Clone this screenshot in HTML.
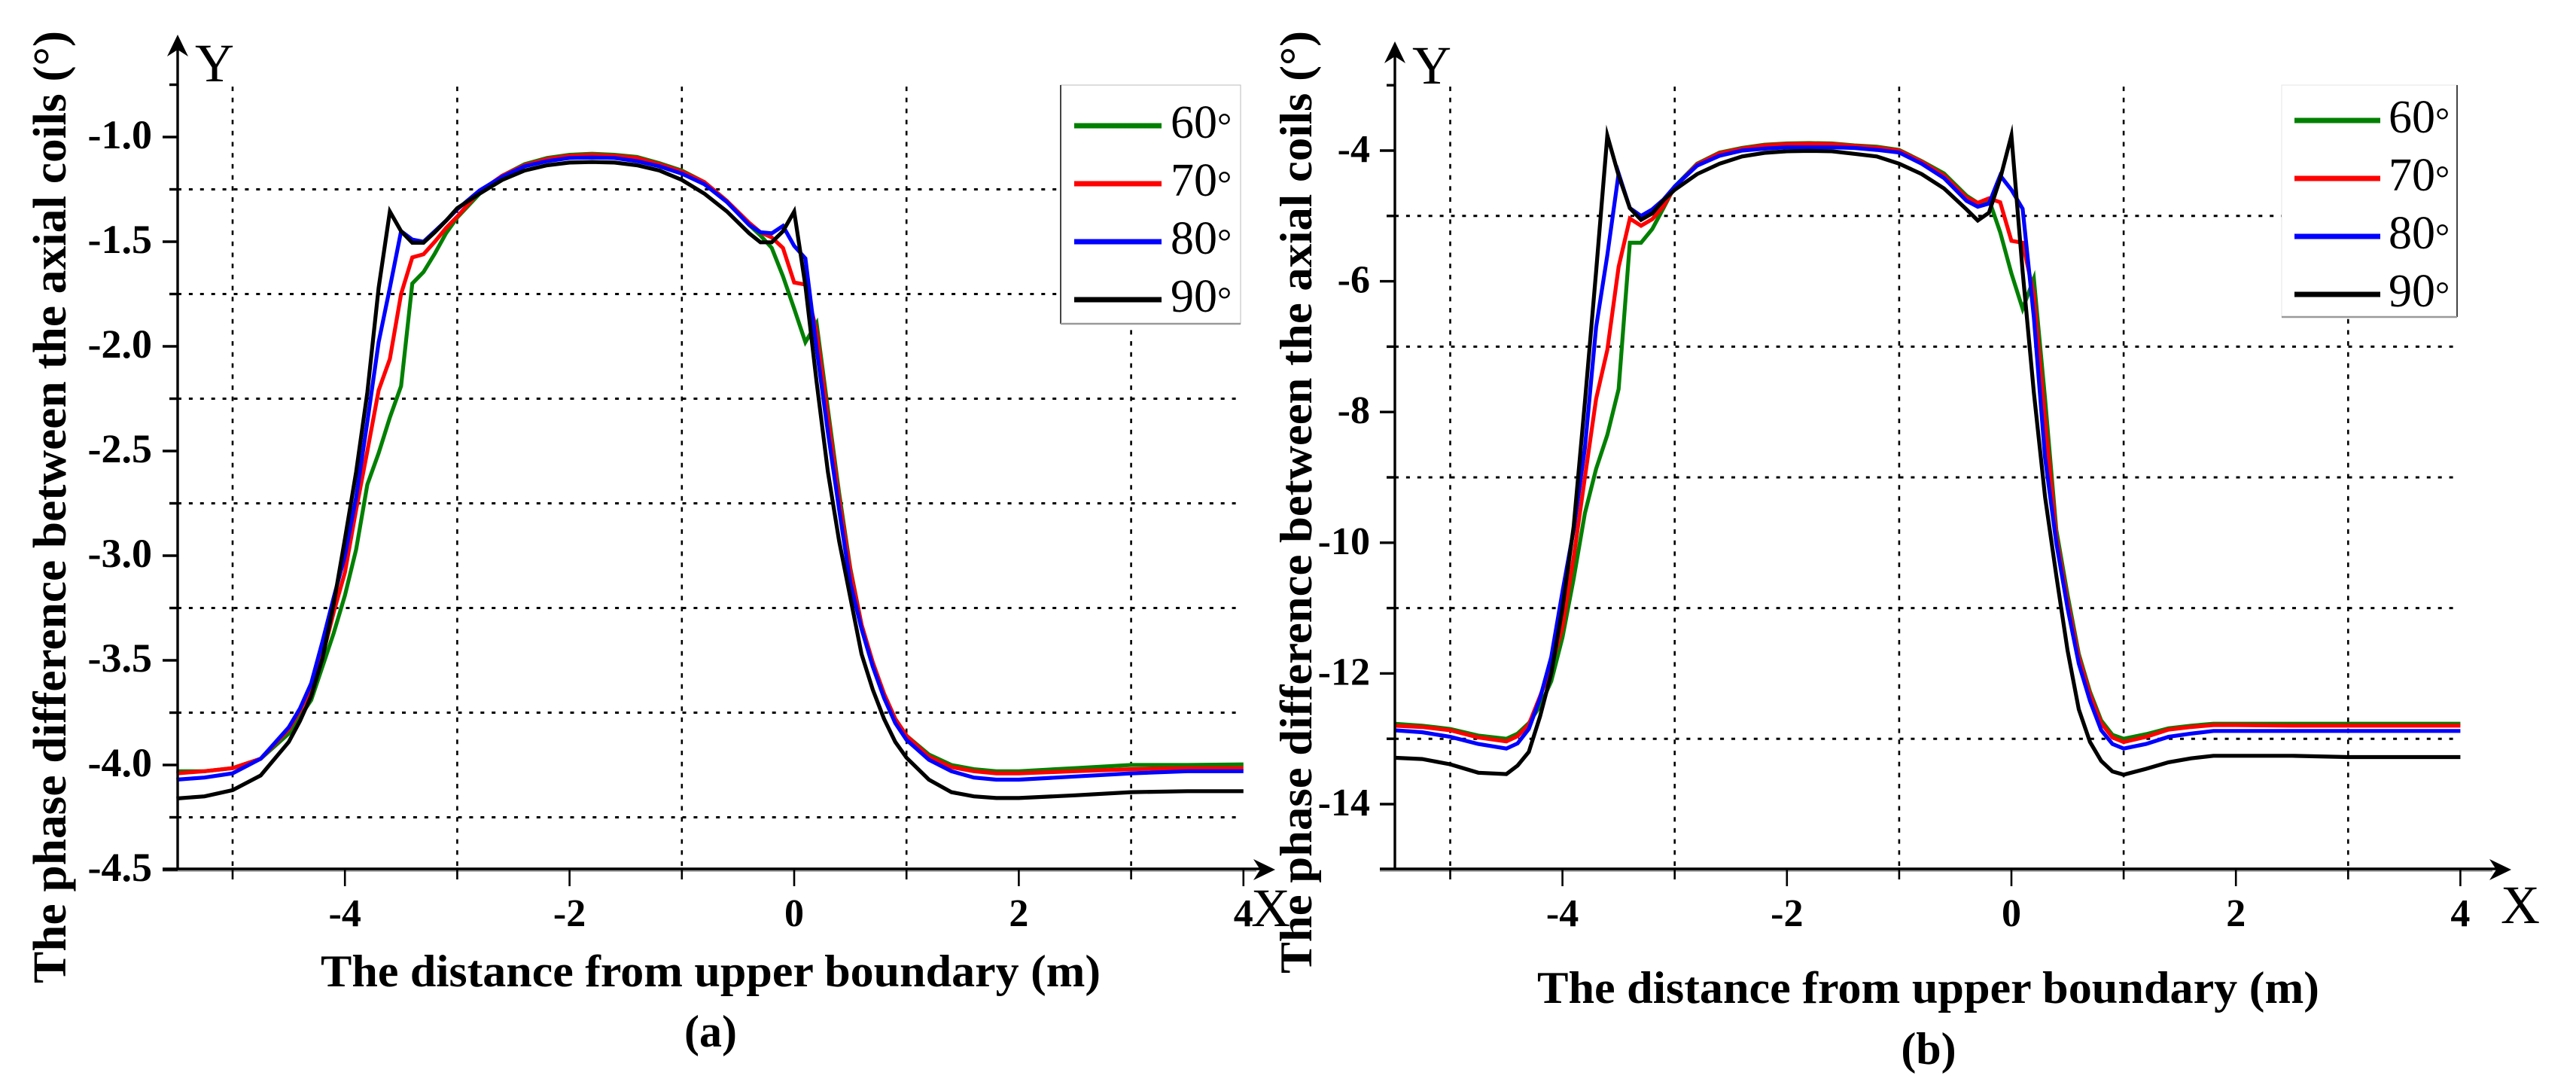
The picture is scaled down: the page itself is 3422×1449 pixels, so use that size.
<!DOCTYPE html>
<html lang="en">
<head>
<meta charset="utf-8">
<title>Phase difference between the axial coils</title>
<style>
html,body{margin:0;padding:0;background:#fff;width:3422px;height:1449px;overflow:hidden}
svg{display:block}
text{font-family:"Liberation Serif",serif;fill:#000}
.bold{font-weight:bold}
</style>
</head>
<body>
<svg id="fig" width="3422" height="1449" viewBox="0 0 3422 1449" xmlns="http://www.w3.org/2000/svg">
<rect x="0" y="0" width="3422" height="1449" fill="#fff"/>
</svg>
<script>
var xValues = [-5.5,-5.25,-5,-4.75,-4.5,
 -4.4,-4.3,-4.2,-4.1,-4,-3.9,-3.8,-3.7,-3.6,-3.5,-3.4,-3.3,-3.2,-3.1,-3,
 -2.8,-2.6,-2.4,-2.2,-2,-1.8,-1.6,-1.4,-1.2,-1,-0.8,-0.6,-0.4,
 -0.3,-0.2,-0.1,0,0.1,0.2,0.3,0.4,0.5,0.6,0.7,0.8,0.9,1,
 1.2,1.4,1.6,1.8,2,2.5,3,3.5,4];

var a60 = [-4.03,-4.03,-4.015,-3.97,-3.85,
 -3.77,-3.69,-3.53,-3.37,-3.19,-2.97,-2.66,-2.51,-2.34,-2.19,-1.70,-1.645,-1.557,-1.46,-1.385,
 -1.27,-1.185,-1.13,-1.10,-1.085,-1.08,-1.085,-1.095,-1.125,-1.16,-1.215,-1.305,-1.42,
 -1.47,-1.53,-1.665,-1.82,-1.98,-1.89,-2.30,-2.70,-3.06,-3.33,-3.51,-3.66,-3.78,-3.86,
 -3.95,-4.0,-4.02,-4.03,-4.03,-4.015,-4.0,-4.0,-3.997];
var a70 = [-4.04,-4.03,-4.015,-3.97,-3.83,
 -3.74,-3.63,-3.48,-3.27,-3.08,-2.78,-2.5,-2.21,-2.06,-1.75,-1.575,-1.56,-1.50,-1.435,-1.38,
 -1.26,-1.185,-1.135,-1.105,-1.09,-1.085,-1.09,-1.10,-1.13,-1.165,-1.215,-1.305,-1.41,
 -1.455,-1.48,-1.53,-1.695,-1.705,-1.93,-2.335,-2.73,-3.07,-3.33,-3.51,-3.66,-3.78,-3.86,
 -3.96,-4.01,-4.03,-4.04,-4.04,-4.03,-4.02,-4.015,-4.015];
var a80 = [-4.07,-4.06,-4.04,-3.97,-3.82,
 -3.73,-3.61,-3.41,-3.2,-3.0,-2.72,-2.36,-1.98,-1.72,-1.45,-1.49,-1.50,-1.45,-1.40,-1.345,
 -1.255,-1.19,-1.14,-1.115,-1.10,-1.098,-1.10,-1.115,-1.14,-1.175,-1.225,-1.31,-1.42,
 -1.455,-1.46,-1.425,-1.52,-1.58,-2.01,-2.41,-2.78,-3.13,-3.35,-3.53,-3.68,-3.80,-3.88,
 -3.975,-4.03,-4.06,-4.07,-4.07,-4.055,-4.04,-4.03,-4.03];
var a90 = [-4.16,-4.15,-4.12,-4.05,-3.89,
 -3.79,-3.67,-3.49,-3.23,-2.92,-2.6,-2.22,-1.72,-1.356,-1.45,-1.505,-1.505,-1.455,-1.40,-1.34,
 -1.27,-1.205,-1.16,-1.135,-1.122,-1.119,-1.122,-1.135,-1.16,-1.205,-1.27,-1.355,-1.46,
 -1.503,-1.503,-1.45,-1.356,-1.71,-2.17,-2.6,-2.93,-3.2,-3.47,-3.64,-3.78,-3.89,-3.965,
 -4.07,-4.13,-4.15,-4.158,-4.158,-4.145,-4.13,-4.125,-4.125];

var b60 = [-12.77,-12.8,-12.85,-12.95,-13.0,
 -12.92,-12.76,-12.5,-12.12,-11.45,-10.55,-9.55,-8.87,-8.35,-7.65,-5.41,-5.41,-5.2,-4.88,-4.55,
 -4.2,-4.03,-3.96,-3.91,-3.89,-3.885,-3.89,-3.92,-3.94,-3.99,-4.16,-4.35,-4.69,
 -4.8,-4.75,-5.25,-5.88,-6.42,-5.96,-7.8,-9.8,-10.8,-11.7,-12.28,-12.72,-12.94,-13.0,
 -12.93,-12.84,-12.8,-12.77,-12.77,-12.77,-12.77,-12.77,-12.77];
var b70 = [-12.8,-12.82,-12.87,-12.98,-13.04,
 -12.96,-12.78,-12.35,-11.9,-11.3,-10.22,-9.0,-7.8,-7.05,-5.78,-5.04,-5.15,-5.05,-4.85,-4.56,
 -4.21,-4.04,-3.97,-3.92,-3.9,-3.895,-3.9,-3.93,-3.955,-4.0,-4.17,-4.38,-4.72,
 -4.8,-4.73,-4.79,-5.38,-5.41,-6.2,-8.1,-9.9,-10.9,-11.75,-12.32,-12.76,-12.98,-13.05,
 -12.97,-12.86,-12.82,-12.79,-12.79,-12.8,-12.8,-12.8,-12.8];
var b80 = [-12.87,-12.9,-12.97,-13.08,-13.15,
 -13.07,-12.85,-12.38,-11.75,-10.75,-9.8,-8.55,-6.7,-5.6,-4.35,-4.88,-5.0,-4.9,-4.75,-4.55,
 -4.23,-4.08,-4.0,-3.97,-3.95,-3.95,-3.95,-3.96,-3.99,-4.03,-4.2,-4.42,-4.77,
 -4.86,-4.81,-4.38,-4.6,-4.89,-6.55,-8.7,-10.0,-11.0,-11.85,-12.42,-12.87,-13.08,-13.15,
 -13.08,-12.97,-12.92,-12.88,-12.88,-12.88,-12.88,-12.88,-12.88];
var b90 = [-13.29,-13.31,-13.39,-13.52,-13.54,
 -13.41,-13.2,-12.66,-12.0,-11.0,-9.75,-7.85,-5.85,-3.77,-4.38,-4.88,-5.06,-4.96,-4.76,-4.6,
 -4.36,-4.2,-4.09,-4.035,-4.01,-4.005,-4.01,-4.05,-4.09,-4.2,-4.36,-4.58,-4.9,
 -5.07,-4.95,-4.43,-3.77,-5.85,-7.7,-9.3,-10.5,-11.65,-12.55,-13.05,-13.34,-13.5,-13.55,
 -13.46,-13.36,-13.3,-13.26,-13.26,-13.26,-13.28,-13.28,-13.28];

var seriesNames = ['60', '70', '80', '90'];
var seriesColors = ['#008000', '#ff0000', '#0000ff', '#000000'];
var xMajorTicks = [-4, -2, 0, 2, 4];
var xMinorTicks = [-5, -3, -1, 1, 3];
var aYMajorTicks = [-1, -1.5, -2, -2.5, -3, -3.5, -4, -4.5];
var aYTickLabels = ['-1.0', '-1.5', '-2.0', '-2.5', '-3.0', '-3.5', '-4.0', '-4.5'];
var aYMinorTicks = [-0.75, -1.25, -1.75, -2.25, -2.75, -3.25, -3.75, -4.25];
var bYMajorTicks = [-4, -6, -8, -10, -12, -14];
var bYTickLabels = ['-4', '-6', '-8', '-10', '-12', '-14'];
var bYMinorTicks = [-3, -5, -7, -9, -11, -13];

var NS = 'http://www.w3.org/2000/svg';
var root = document.getElementById('fig');

function mk(tag, parent, attrs, txt) {
  var el = document.createElementNS(NS, tag);
  for (var k in attrs) { el.setAttribute(k, attrs[k]); }
  if (txt !== undefined) { el.textContent = txt; }
  parent.appendChild(el);
  return el;
}

function drawPanel(p) {
  var g = mk('g', root, {});
  
  

  function X(v) { return p.x0 + p.xScale * v; }
  function Y(v) { return p.yRef + (p.yRefVal - v) * p.yScale; }
  var axisX = p.axisX, axisY = 1154;

  // vertical dashed grid
  p.xMinor.forEach(function (v) {
    var l = mk('line', g, {x1: X(v), x2: X(v), y1: 115, y2: axisY, stroke: '#000', 'stroke-width': 2.6, 'stroke-dasharray': '6 8.7'});
    
    
  });
  // horizontal dotted grid
  p.yMinor.slice(1).forEach(function (v) {
    var l = mk('line', g, {x1: axisX, x2: p.gridEnd, y1: Y(v), y2: Y(v), stroke: '#000', 'stroke-width': 3, 'stroke-dasharray': '5 9.9'});
    
    
  });

  // legend box
  var lg = mk('g', g, {});
  
  
  var box = mk('rect', lg, {x: p.legend.x, y: p.legend.y, width: p.legend.w, height: p.legend.h, fill: '#fff', stroke: p.legend.stroke, 'stroke-width': 1});
  
  
  var side = mk('line', lg, {x1: p.legend.sideX, x2: p.legend.sideX, y1: p.legend.y, y2: p.legend.y + p.legend.h, stroke: '#444', 'stroke-width': 2});
  
  
  var bot = mk('line', lg, {x1: p.legend.x, x2: p.legend.x + p.legend.w, y1: p.legend.y + p.legend.h, y2: p.legend.y + p.legend.h, stroke: '#999', 'stroke-width': 2.5});
  
  

  seriesNames.forEach(function (name, i) {
    var ly = p.legend.first + i * p.legend.step;
    var sw = mk('line', lg, {x1: p.legend.lx1, x2: p.legend.lx2, y1: ly, y2: ly, stroke: seriesColors[i], 'stroke-width': 7});
    
    
    var t = mk('text', lg, {x: p.legend.tx, y: ly + 16, 'font-size': 62}, name);
    
    
    var deg = mk('tspan', t, {'font-size': 48}, '\u00B0');
    
    
  });

  // series
  p.series.forEach(function (vals, i) {
    var pts = vals.map(function (v, j) { return X(xValues[j]).toFixed(1) + ',' + Y(v).toFixed(1); }).join(' ');
    var s = mk('polyline', g, {points: pts, fill: 'none', stroke: seriesColors[i], 'stroke-width': 5.2, 'stroke-linejoin': 'miter', 'stroke-miterlimit': 6});
    
    
  });

  // axes
  var xShadow = mk('line', g, {x1: p.axisX - 20, x2: p.arrowTipX - 25, y1: axisY + 2.5, y2: axisY + 2.5, stroke: '#9a9a9a', 'stroke-width': 2.5});
  
  
  var xAxis = mk('line', g, {x1: p.axisX - 20, x2: p.arrowTipX - 20, y1: axisY, y2: axisY, stroke: '#000', 'stroke-width': 3.4});
  
  
  var yAxis = mk('line', g, {x1: axisX, x2: axisX, y1: axisY, y2: p.arrowTopY + 15, stroke: '#000', 'stroke-width': 3.4});
  
  

  var ah = mk('polygon', g, {points: [axisX, p.arrowTopY, axisX + 14, p.arrowTopY + 29, axisX, p.arrowTopY + 20, axisX - 14, p.arrowTopY + 29].join(','), fill: '#000'});
  
  
  var ax = mk('polygon', g, {points: [p.arrowTipX, axisY + 1, p.arrowTipX - 29, axisY - 13, p.arrowTipX - 20, axisY + 1, p.arrowTipX - 29, axisY + 15].join(','), fill: '#000'});
  
  

  // ticks and labels
  xMajorTicks.forEach(function (v) {
    var l = mk('line', g, {x1: X(v), x2: X(v), y1: axisY, y2: 1177, stroke: '#000', 'stroke-width': 2.6});
    
    
    var t = mk('text', g, {x: X(v), y: 1230, 'font-size': 52, 'text-anchor': 'middle', 'class': 'bold'}, String(v));
    
    
  });
  xMinorTicks.forEach(function (v) {
    var l = mk('line', g, {x1: X(v), x2: X(v), y1: axisY, y2: 1168, stroke: '#000', 'stroke-width': 2.6});
    
    
  });
  p.yMajor.forEach(function (v, i) {
    var l = mk('line', g, {x1: axisX - 20, x2: axisX, y1: Y(v), y2: Y(v), stroke: '#000', 'stroke-width': 3.4});
    
    
    var t = mk('text', g, {x: p.tickRight, y: Y(v) + p.tickDy, 'font-size': p.tickFont, 'text-anchor': 'end', 'class': 'bold'}, p.yLabels[i]);
    
    
  });
  p.yMinor.forEach(function (v) {
    var l = mk('line', g, {x1: axisX - 11, x2: axisX, y1: Y(v), y2: Y(v), stroke: '#000', 'stroke-width': 3.4});
    
    
  });

  // axis letters
  var yl = mk('text', g, {x: p.yLetter[0], y: p.yLetter[1], 'font-size': 72}, 'Y');
  
  
  var xl = mk('text', g, {x: p.xLetter[0], y: p.xLetter[1], 'font-size': 72}, 'X');
  
  

  // titles
  var xt = mk('text', g, {x: p.xTitle[0], y: p.xTitle[1], 'font-size': 60, 'class': 'bold', textLength: p.xTitle[2], lengthAdjust: 'spacingAndGlyphs'}, 'The distance from upper boundary (m)');
  
  
  var yt = mk('text', g, {x: 0, y: 0, 'font-size': p.yTitle[3], 'class': 'bold', textLength: p.yTitle[2], lengthAdjust: 'spacingAndGlyphs', transform: 'translate(' + p.yTitle[0] + ' ' + p.yTitle[1] + ') rotate(-90)'}, 'The phase difference between the axial coils (\u00B0)');
  
  
  var cap = mk('text', g, {x: p.caption[0], y: p.caption[1], 'font-size': 60, 'text-anchor': 'middle', 'class': 'bold'}, '(' + p.id + ')');
  
  
}

drawPanel({
  id: 'a', x0: 1055, xScale: 149.2, yRef: 182, yRefVal: -1, yScale: 278,
  axisX: 236, gridEnd: 1642, arrowTipX: 1694, arrowTopY: 46,
  series: [a60, a70, a80, a90],
  xMinor: xMinorTicks, yMajor: aYMajorTicks, yLabels: aYTickLabels, yMinor: aYMinorTicks,
  tickRight: 202, tickDy: 15, tickFont: 54,
  legend: {x: 1409, y: 113, w: 239, h: 317, sideX: 1409, stroke: '#bbb', lx1: 1427, lx2: 1543, tx: 1555, first: 167, step: 77},
  yLetter: [259, 108], xLetter: [1662, 1230],
  xTitle: [426, 1310, 1036], yTitle: [87, 1306, 1265, 62], caption: [944, 1390]
});

drawPanel({
  id: 'b', x0: 2672, xScale: 149.1, yRef: 200, yRefVal: -4, yScale: 86.8,
  axisX: 1853, gridEnd: 3260, arrowTipX: 3336, arrowTopY: 55,
  series: [b60, b70, b80, b90],
  xMinor: xMinorTicks, yMajor: bYMajorTicks, yLabels: bYTickLabels, yMinor: bYMinorTicks,
  tickRight: 1820, tickDy: 15, tickFont: 52,
  legend: {x: 3031, y: 113, w: 233, h: 308, sideX: 3264, stroke: '#e4e4e4', lx1: 3048, lx2: 3162, tx: 3173, first: 160, step: 77},
  yLetter: [1876, 111], xLetter: [3322, 1226],
  xTitle: [2042, 1332, 1039], yTitle: [1742, 1293, 1252, 60], caption: [2562, 1413]
});
</script>
</body>
</html>
